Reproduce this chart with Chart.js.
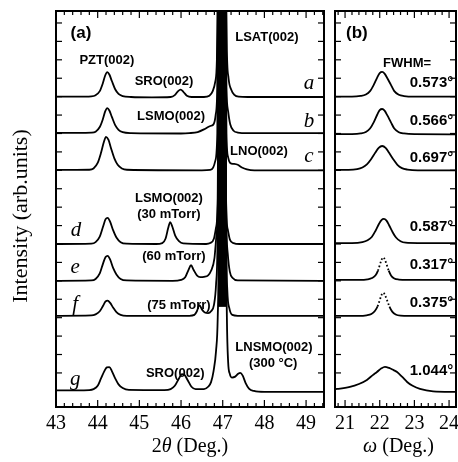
<!DOCTYPE html>
<html>
<head>
<meta charset="utf-8">
<script src="https://cdn.jsdelivr.net/npm/chart.js@4.4.0/dist/chart.umd.min.js"></script>
<style>
  html, body { margin: 0; padding: 0; background: #fff; }
  #wrap { position: relative; width: 458px; height: 462px; }
  canvas { position: absolute; top: 0; }
  #chartA { left: 0; }
  #chartB { left: 330px; }
</style>
</head>
<body>
<div id="wrap">
  <canvas id="chartA" width="330" height="462"></canvas>
  <canvas id="chartB" width="128" height="462"></canvas>
</div>
<script>
// Axis ranges and tick labels
const thetaRange = [43, 49.43];
const omegaRange = [20.71, 24.2];
const intensityRange = [-1.85, 19.65];
const thetaTicks = [43, 44, 45, 46, 47, 48, 49];
const omegaTicks = [21, 22, 23, 24];
const intensityTicks = [0, 1, 2, 3, 4, 5, 6, 7, 8, 9, 10, 11, 12, 13, 14, 15, 16, 17, 18, 19];

// (a) 2theta scans, [2theta, intensity + offset]
const scanA = [[43, 15.0], [43.5, 15.0], [43.85, 15.02], [43.95, 15.08], [44.05, 15.3], [44.12, 15.7], [44.18, 16.15], [44.23, 16.33], [44.28, 16.2], [44.34, 15.85], [44.42, 15.4], [44.5, 15.15], [44.6, 15.03], [44.8, 14.98], [45.3, 14.96], [45.75, 14.98], [45.85, 15.08], [45.93, 15.3], [45.99, 15.38], [46.06, 15.25], [46.14, 15.05], [46.25, 14.98], [46.55, 14.98], [46.68, 15.05], [46.76, 15.3], [46.82, 15.8], [46.86, 17], [46.9, 25], [46.98, 30], [47.06, 25], [47.1, 17.5], [47.14, 16.0], [47.2, 15.4], [47.28, 15.1], [47.38, 15.0], [47.6, 14.98], [49.43, 14.98]];
const scanB = [[43, 13.03], [43.85, 13.05], [43.95, 13.1], [44.05, 13.35], [44.12, 13.75], [44.18, 14.2], [44.23, 14.38], [44.28, 14.25], [44.34, 13.9], [44.42, 13.45], [44.5, 13.2], [44.6, 13.07], [44.8, 13.02], [46.0, 13.0], [46.2, 13.02], [46.4, 13.08], [46.55, 13.22], [46.65, 13.35], [46.72, 13.42], [46.78, 13.5], [46.83, 14.0], [46.87, 15.5], [46.9, 22], [46.98, 30], [47.06, 22], [47.09, 15.5], [47.13, 14.2], [47.18, 13.5], [47.26, 13.15], [47.36, 13.05], [47.6, 13.02], [49.43, 13.02]];
const scanC = [[43, 11.02], [43.8, 11.03], [43.9, 11.1], [44.0, 11.4], [44.08, 11.95], [44.15, 12.55], [44.2, 12.82], [44.26, 12.65], [44.32, 12.2], [44.4, 11.65], [44.48, 11.3], [44.58, 11.1], [44.7, 11.03], [46.5, 11.0], [46.7, 11.02], [46.77, 11.15], [46.82, 11.5], [46.87, 13], [46.9, 22], [46.98, 30], [47.06, 22], [47.09, 13], [47.13, 11.7], [47.18, 11.4], [47.26, 11.35], [47.36, 11.3], [47.46, 11.15], [47.58, 11.05], [47.76, 11.0], [49.43, 11.0]];
const scanD = [[43, 7.0], [43.85, 7.02], [43.95, 7.1], [44.05, 7.4], [44.13, 7.95], [44.19, 8.35], [44.24, 8.42], [44.3, 8.2], [44.37, 7.75], [44.45, 7.35], [44.55, 7.1], [44.7, 7.02], [45.4, 7.0], [45.55, 7.05], [45.63, 7.3], [45.69, 7.85], [45.74, 8.18], [45.79, 7.95], [45.86, 7.45], [45.95, 7.15], [46.05, 7.03], [46.6, 7.0], [46.7, 7.05], [46.79, 7.3], [46.84, 7.9], [46.88, 9.5], [46.91, 22], [46.98, 30], [47.06, 22], [47.08, 9.5], [47.12, 7.8], [47.17, 7.25], [47.26, 7.05], [47.4, 7.0], [49.43, 7.0]];
const scanE = [[43, 5.0], [43.85, 5.02], [43.95, 5.1], [44.05, 5.4], [44.13, 5.95], [44.19, 6.3], [44.24, 6.36], [44.3, 6.15], [44.37, 5.7], [44.45, 5.35], [44.55, 5.1], [44.7, 5.02], [45.8, 5.0], [46.0, 5.05], [46.1, 5.2], [46.18, 5.6], [46.24, 5.85], [46.3, 5.6], [46.38, 5.3], [46.46, 5.2], [46.55, 5.22], [46.65, 5.3], [46.72, 5.55], [46.8, 6.2], [46.85, 7.5], [46.89, 10], [46.91, 22], [46.98, 30], [47.06, 22], [47.08, 9.5], [47.12, 6.5], [47.17, 5.5], [47.24, 5.15], [47.36, 5.02], [49.43, 5.0]];
const scanF = [[43, 3.1], [43.85, 3.12], [43.95, 3.18], [44.05, 3.35], [44.13, 3.65], [44.19, 3.88], [44.24, 3.92], [44.3, 3.8], [44.37, 3.55], [44.45, 3.3], [44.55, 3.15], [44.7, 3.1], [46.2, 3.1], [46.32, 3.15], [46.38, 3.35], [46.44, 3.68], [46.5, 3.45], [46.57, 3.28], [46.65, 3.25], [46.72, 3.35], [46.79, 3.7], [46.84, 4.8], [46.88, 8], [46.91, 22], [46.98, 30], [47.06, 22], [47.08, 8], [47.11, 4.5], [47.16, 3.5], [47.23, 3.15], [47.36, 3.1], [49.43, 3.1]];
const scanG = [[43, -0.95], [43.8, -0.93], [43.9, -0.88], [44.0, -0.7], [44.08, -0.3], [44.16, 0.1], [44.22, 0.3], [44.28, 0.32], [44.34, 0.1], [44.42, -0.3], [44.5, -0.62], [44.6, -0.82], [44.75, -0.92], [45.6, -0.93], [45.75, -0.88], [45.85, -0.7], [45.95, -0.3], [46.02, -0.07], [46.08, -0.1], [46.16, -0.4], [46.25, -0.75], [46.35, -0.88], [46.55, -0.88], [46.65, -0.75], [46.72, -0.5], [46.78, 0.1], [46.84, 1.2], [46.88, 3], [46.91, 8], [46.93, 22], [46.98, 30], [47.06, 22], [47.08, 8], [47.1, 3], [47.13, 0.6], [47.17, -0.05], [47.22, -0.25], [47.3, -0.2], [47.37, -0.05], [47.42, 0.0], [47.48, -0.15], [47.55, -0.55], [47.63, -0.85], [47.75, -0.98], [48, -1.03], [49.43, -1.03]];
// saturated LSAT(002) region where all scans overlap
const lsatSaturation = [[46.88, 3.6], [46.855, 19.7], [47.1, 19.7], [47.09, 3.6]];

// (b) rocking curves, [omega, intensity + offset]
const rockA = [[20.71, 15.0], [21.2, 15.0], [21.45, 15.04], [21.6, 15.12], [21.72, 15.3], [21.83, 15.65], [21.93, 16.05], [22.0, 16.28], [22.07, 16.34], [22.14, 16.25], [22.22, 16.0], [22.32, 15.65], [22.42, 15.3], [22.55, 15.1], [22.7, 15.03], [23.0, 15.0], [24.2, 15.0]];
const rockB = [[20.71, 12.97], [21.2, 12.97], [21.45, 13.0], [21.6, 13.08], [21.72, 13.27], [21.83, 13.62], [21.93, 14.03], [22.0, 14.27], [22.07, 14.33], [22.14, 14.24], [22.22, 13.98], [22.32, 13.62], [22.42, 13.27], [22.55, 13.07], [22.7, 13.0], [23.0, 12.96], [24.2, 12.95]];
const rockC = [[20.71, 11.02], [21.1, 11.02], [21.35, 11.06], [21.5, 11.15], [21.63, 11.32], [21.75, 11.6], [21.87, 11.95], [21.97, 12.22], [22.07, 12.32], [22.17, 12.22], [22.27, 11.95], [22.39, 11.6], [22.51, 11.3], [22.64, 11.12], [22.8, 11.04], [23.1, 11.0], [24.2, 11.0]];
const rockD = [[20.71, 7.05], [21.2, 7.05], [21.5, 7.1], [21.65, 7.2], [21.77, 7.38], [21.88, 7.72], [21.98, 8.1], [22.05, 8.3], [22.12, 8.36], [22.19, 8.28], [22.27, 8.02], [22.37, 7.65], [22.47, 7.35], [22.6, 7.15], [22.75, 7.07], [23.1, 7.05], [24.2, 7.05]];
const rockE = [[20.71, 5.05], [21.4, 5.05], [21.65, 5.08], [21.78, 5.15], [21.88, 5.3], [21.95, 5.55], [22.0, 5.85], [22.05, 6.13], [22.1, 6.27], [22.15, 6.15], [22.2, 5.88], [22.26, 5.55], [22.33, 5.28], [22.42, 5.13], [22.55, 5.07], [22.8, 5.05], [24.2, 5.05]];
const rockF = [[20.71, 3.1], [21.4, 3.1], [21.62, 3.13], [21.76, 3.2], [21.86, 3.36], [21.94, 3.62], [22.0, 3.95], [22.05, 4.22], [22.1, 4.35], [22.15, 4.24], [22.21, 3.95], [22.28, 3.6], [22.36, 3.33], [22.46, 3.17], [22.6, 3.11], [22.85, 3.1], [24.2, 3.1]];
const rockG = [[20.71, -0.88], [20.77, -0.87], [21.14, -0.76], [21.4, -0.6], [21.63, -0.38], [21.8, -0.12], [21.92, 0.05], [22.05, 0.25], [22.15, 0.33], [22.27, 0.27], [22.4, 0.15], [22.5, 0.05], [22.65, -0.22], [22.79, -0.49], [22.95, -0.7], [23.16, -0.87], [23.54, -1.0], [24.2, -1.03]];

const fwhmLabels = ["0.573°", "0.566°", "0.697°", "0.587°", "0.317°", "0.375°", "1.044°"];
const fwhmRows = [15.74, 13.68, 11.67, 7.93, 5.86, 3.8, 0.11];

const SANS = "'Liberation Sans', Arial, sans-serif";
const SERIF = "'Liberation Serif', 'Times New Roman', serif";
const noteFont = "bold 13px " + SANS;
const letterFont = "italic 21px " + SERIF;

// text placed in data coordinates
const notesA = [
  { text: "(a)", x: 43.6, y: 18.46, font: "bold 17px " + SANS },
  { text: "PZT(002)", x: 44.22, y: 16.99, font: noteFont },
  { text: "SRO(002)", x: 45.59, y: 15.8, font: noteFont },
  { text: "LSMO(002)", x: 45.76, y: 13.9, font: noteFont },
  { text: "LSAT(002)", x: 48.06, y: 18.24, font: noteFont },
  { text: "LNO(002)", x: 47.87, y: 12.0, font: noteFont },
  { text: "LSMO(002)", x: 45.71, y: 9.5, font: noteFont },
  { text: "(30 mTorr)", x: 45.71, y: 8.58, font: noteFont },
  { text: "(60 mTorr)", x: 45.83, y: 6.3, font: noteFont },
  { text: "(75 mTorr)", x: 45.95, y: 3.69, font: noteFont },
  { text: "SRO(002)", x: 45.86, y: 0.0, font: noteFont },
  { text: "LNSMO(002)", x: 48.23, y: 1.41, font: noteFont },
  { text: "(300 °C)", x: 48.21, y: 0.54, font: noteFont },
  { text: "a", x: 49.07, y: 15.69, font: letterFont },
  { text: "b", x: 49.07, y: 13.63, font: letterFont },
  { text: "c", x: 49.07, y: 11.73, font: letterFont },
  { text: "d", x: 43.48, y: 7.71, font: letterFont },
  { text: "e", x: 43.46, y: 5.7, font: letterFont },
  { text: "f", x: 43.46, y: 3.69, font: letterFont },
  { text: "g", x: 43.46, y: -0.38, font: letterFont },
];
const notesB = [
  { text: "(b)", x: 21.34, y: 18.46, font: "bold 17px " + SANS },
  { text: "FWHM=", x: 22.79, y: 16.83, font: noteFont },
].concat(fwhmLabels.map((t, i) => ({ text: t, x: 24.12, y: fwhmRows[i], font: "bold 15px " + SANS, align: "right" })));

function toPoints(list) {
  return list.map(([x, y]) => ({ x, y }));
}

// dotted stroke only for the upper part of a peak
function dottedAbove(limit) {
  return (ctx) => (ctx.p0.parsed.y > limit && ctx.p1.parsed.y > limit ? [1.6, 2.2] : undefined);
}

function lineSet(list, extra) {
  return Object.assign(
    {
      data: toPoints(list),
      borderColor: "#000",
      borderWidth: 1.8,
      pointRadius: 0,
      cubicInterpolationMode: "monotone",
      fill: false,
      clip: 0,
    },
    extra || {}
  );
}

// frame, inward ticks, tick labels, titles and notes
const framePlugin = {
  id: "frame",
  afterDatasetsDraw(chart, args, opts) {
    const { ctx, chartArea: a, scales } = chart;
    const xs = scales.x;
    const ys = scales.y;
    ctx.save();
    ctx.strokeStyle = "#000";
    ctx.fillStyle = "#000";

    const seg = (x1, y1, x2, y2) => {
      ctx.beginPath();
      ctx.moveTo(x1, y1);
      ctx.lineTo(x2, y2);
      ctx.stroke();
    };

    // minor ticks every 0.2, major at labelled values
    ctx.lineWidth = 1.2;
    for (let i = Math.ceil(xs.min * 5 - 1e-6); i <= xs.max * 5 + 1e-6; i++) {
      const px = xs.getPixelForValue(i / 5);
      const len = i % 5 === 0 ? 7 : 4;
      seg(px, a.bottom, px, a.bottom - len);
      seg(px, a.top, px, a.top + len);
    }
    intensityTicks.forEach((v) => {
      const py = ys.getPixelForValue(v);
      seg(a.left, py, a.left + 6, py);
      seg(a.right, py, a.right - 6, py);
    });

    ctx.lineWidth = 2;
    ctx.strokeRect(a.left, a.top, a.right - a.left, a.bottom - a.top);

    // tick labels
    ctx.font = "20px " + SERIF;
    ctx.textAlign = "center";
    ctx.textBaseline = "middle";
    opts.ticks.forEach((t) => {
      ctx.fillText(String(t), xs.getPixelForValue(t), a.bottom + 17);
    });

    // x title with italic symbol
    const parts = opts.title;
    const fonts = parts.map((p) => (p[1] ? "italic " : "") + "20px " + SERIF);
    let w = 0;
    parts.forEach((p, i) => {
      ctx.font = fonts[i];
      w += ctx.measureText(p[0]).width;
    });
    let cx = (a.left + a.right) / 2 + (opts.titleShift || 0) - w / 2;
    ctx.textAlign = "left";
    parts.forEach((p, i) => {
      ctx.font = fonts[i];
      ctx.fillText(p[0], cx, a.bottom + 40);
      cx += ctx.measureText(p[0]).width;
    });

    // y title
    if (opts.yTitle) {
      ctx.save();
      ctx.translate(21, 216);
      ctx.rotate(-Math.PI / 2);
      ctx.font = "22px " + SERIF;
      ctx.textAlign = "center";
      ctx.fillText(opts.yTitle, 0, 0);
      ctx.restore();
    }

    // notes
    opts.notes.forEach((n) => {
      ctx.font = n.font;
      ctx.textAlign = n.align || "center";
      ctx.fillText(n.text, xs.getPixelForValue(n.x), ys.getPixelForValue(n.y));
    });
    ctx.restore();
  },
};

function makeChart(id, range, datasets, pad, frame) {
  return new Chart(document.getElementById(id), {
    type: "line",
    data: { datasets },
    options: {
      responsive: false,
      animation: false,
      devicePixelRatio: 1,
      layout: { padding: pad },
      scales: {
        x: { type: "linear", min: range[0], max: range[1], display: false },
        y: { type: "linear", min: intensityRange[0], max: intensityRange[1], display: false },
      },
      plugins: {
        legend: { display: false },
        tooltip: { enabled: false },
        frame,
      },
    },
    plugins: [framePlugin],
  });
}

makeChart(
  "chartA",
  thetaRange,
  [
    {
      data: toPoints(lsatSaturation),
      fill: { value: 3.6 },
      backgroundColor: "#000",
      borderWidth: 0,
      pointRadius: 0,
      tension: 0,
      clip: 0,
    },
  ].concat([scanA, scanB, scanC, scanD, scanE, scanF, scanG].map((s) => lineSet(s))),
  { left: 56, top: 11, right: 6, bottom: 55 },
  {
    ticks: thetaTicks,
    title: [["2", false], ["θ", true], [" (Deg.)", false]],
    yTitle: "Intensity (arb.units)",
    notes: notesA,
  }
);

makeChart(
  "chartB",
  omegaRange,
  [
    lineSet(rockA),
    lineSet(rockB),
    lineSet(rockC),
    lineSet(rockD),
    lineSet(rockE, { segment: { borderDash: dottedAbove(5.35) } }),
    lineSet(rockF, { segment: { borderDash: dottedAbove(3.4) } }),
    lineSet(rockG),
  ],
  { left: 5, top: 11, right: 2, bottom: 55 },
  {
    ticks: omegaTicks,
    title: [["ω", true], [" (Deg.)", false]],
    titleShift: 3,
    notes: notesB,
  }
);
</script>
</body>
</html>
